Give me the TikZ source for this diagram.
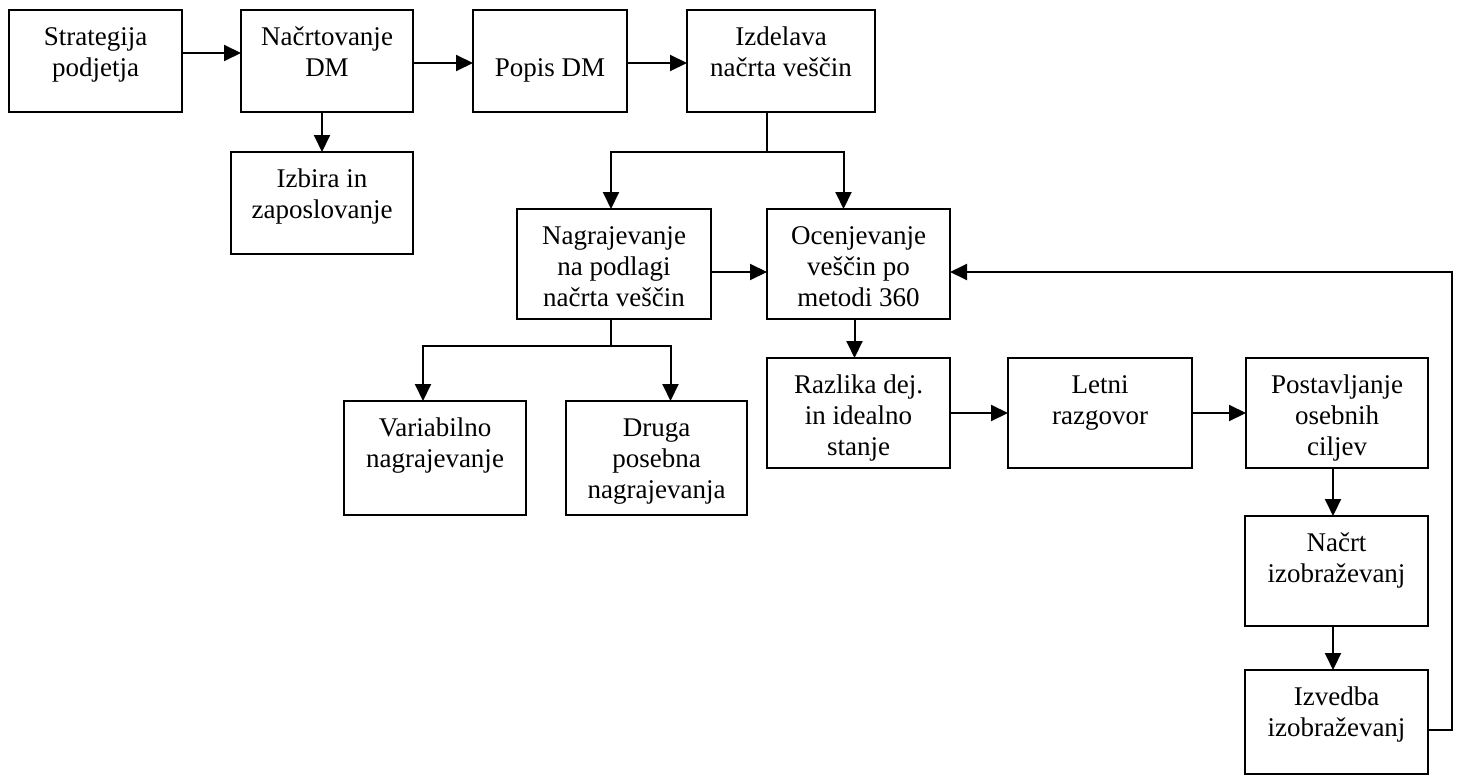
\documentclass[tikz,border=0pt]{standalone}
\usepackage{fontspec}
\setmainfont{Liberation Serif}
\usetikzlibrary{arrows.meta}
\begin{document}
\begin{tikzpicture}[
		x=1pt, y=-1pt,
		font=\fontsize{27}{31}\selectfont,
		task/.style={rectangle, draw, line width=2pt, inner sep=0pt, outer sep=0pt},
		txt/.style={anchor=north, align=center, inner sep=0pt, yshift=-13.3pt},
		flow/.style={-{Triangle[length=17pt,width=16pt]}, line width=2pt}
		]
		\useasboundingbox (0,0) rectangle (1461,776);
		
		\node[task, minimum width=173pt, minimum height=102pt, label={[txt]north:{\strut Strategija\\podjetja}}] (strategija) at (95.5,61) {};
		\node[task, minimum width=172pt, minimum height=102pt, label={[txt]north:{\strut Načrtovanje\\DM}}] (nacrt) at (327,61) {};
		\node[task, minimum width=154pt, minimum height=102pt, label={[txt]north:{\strut\\Popis DM}}] (popis) at (550,61) {};
		\node[task, minimum width=188pt, minimum height=102pt, label={[txt]north:{\strut Izdelava\\načrta veščin}}] (izdelava) at (781,61) {};
		
		\node[task, minimum width=182pt, minimum height=102pt, label={[txt]north:{\strut Izbira in\\zaposlovanje}}] (izbira) at (322,203) {};
		
		\node[task, minimum width=194pt, minimum height=110pt, label={[txt]north:{\strut Nagrajevanje\\na podlagi\\načrta veščin}}] (nagrajevanje) at (614,264) {};
		\node[task, minimum width=183pt, minimum height=110pt, label={[txt]north:{\strut Ocenjevanje\\veščin po\\metodi 360}}] (ocenjevanje) at (858.5,264) {};
		
		\node[task, minimum width=182pt, minimum height=114pt, label={[txt]north:{\strut Variabilno\\nagrajevanje}}] (variabilno) at (435,458) {};
		\node[task, minimum width=181pt, minimum height=114pt, label={[txt]north:{\strut Druga\\posebna\\nagrajevanja}}] (druga) at (656.5,458) {};
		
		\node[task, minimum width=183pt, minimum height=110pt, label={[txt]north:{\strut Razlika dej.\\in idealno\\stanje}}] (razlika) at (858.5,413) {};
		\node[task, minimum width=184pt, minimum height=110pt, label={[txt]north:{\strut Letni\\razgovor}}] (letni) at (1100,413) {};
		\node[task, minimum width=182pt, minimum height=110pt, label={[txt]north:{\strut Postavljanje\\osebnih\\ciljev}}] (cilji) at (1337,413) {};
		\node[task, minimum width=183pt, minimum height=110pt, label={[txt]north:{\strut Načrt\\izobraževanj}}] (nacrtizob) at (1336.5,571) {};
		\node[task, minimum width=183pt, minimum height=104pt, label={[txt]north:{\strut Izvedba\\izobraževanj}}] (izvedba) at (1336.5,722) {};
		
		% zgornja vrsta
		\draw[flow] ([yshift=8pt]strategija.east) -- ([yshift=8pt]nacrt.west);
		\draw[flow] ([yshift=-2pt]nacrt.east) -- ([yshift=-2pt]popis.west);
		\draw[flow] ([yshift=-2pt]popis.east) -- ([yshift=-2pt]izdelava.west);
		\draw[flow] (nacrt.south -| izbira.north) -- (izbira.north);
		
		% razvejitve
		\coordinate (split) at (767,152);
		\draw[line width=2pt] (izdelava.south -| split) -- (split);
		\draw[flow] (split) -| ([xshift=-3pt]nagrajevanje.north);
		\draw[flow] (split) -| ([xshift=-15pt]ocenjevanje.north);
		
		\coordinate (nsplit) at (611,346);
		\draw[line width=2pt] (nagrajevanje.south -| nsplit) -- (nsplit);
		\draw[flow] (nsplit) -| ([xshift=-12pt]variabilno.north);
		\draw[flow] (nsplit) -| ([xshift=14pt]druga.north);
		
		\draw[flow] ([yshift=-8pt]nagrajevanje.east) -- ([yshift=-8pt]ocenjevanje.west);
		\draw[flow] ([xshift=-4pt]ocenjevanje.south) -- ([xshift=-4pt]razlika.north);
		\draw[flow] (razlika.east) -- (letni.west);
		\draw[flow] (letni.east) -- (cilji.west);
		\draw[flow] ([xshift=-4pt]cilji.south) -- ([xshift=-4pt]cilji.south |- nacrtizob.north);
		\draw[flow] ([xshift=-4pt]cilji.south |- nacrtizob.south) -- ([xshift=-4pt]cilji.south |- izvedba.north);
		
		% povratna zanka
		\draw[flow] ([yshift=-8pt]izvedba.east) -- ++(24,0) |- ([yshift=-8pt]ocenjevanje.east);
		
	\end{tikzpicture}
\end{document}
